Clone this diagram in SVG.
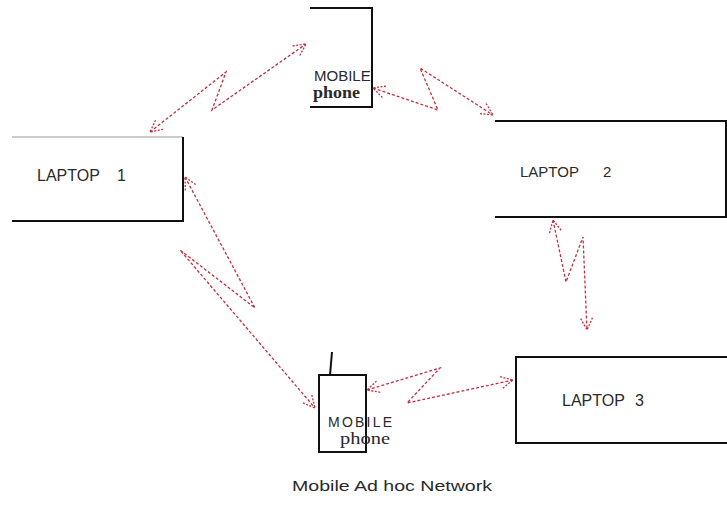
<svg xmlns="http://www.w3.org/2000/svg" width="727" height="527" viewBox="0 0 727 527">
<defs>
<style>
.box{fill:none;stroke:#111;stroke-width:2}
.thin{fill:none;stroke:#999;stroke-width:1}
.lbl{font-family:"Liberation Sans",Arial,sans-serif;fill:#2a2a2a}
.ser{font-family:"Liberation Serif","Times New Roman",serif;fill:#2a2a2a}
.link{fill:none;stroke:#c0303f;stroke-width:1.3;stroke-dasharray:3 2;marker-start:url(#ah);marker-end:url(#ah)}
</style>
<marker id="ah" viewBox="0 0 14 14" refX="13" refY="7" markerWidth="14" markerHeight="14" markerUnits="userSpaceOnUse" orient="auto-start-reverse">
<path d="M1,1 L13,7 L1,13" fill="none" stroke="#c0303f" stroke-width="1.3" stroke-dasharray="2 1.5"/>
</marker>
<clipPath id="clipM1"><rect x="300" y="8" width="71" height="99"/></clipPath>
</defs>
<rect width="727" height="527" fill="#fff"/>
<g id="connectors">
<polyline class="link" points="150,132 226,72 212,110 306,44"/>
<polyline class="link" points="373,88 438,110 420,68 493,115"/>
<polyline class="link" points="185,177 255,308 180,250 315,408"/>
<polyline class="link" points="367,390 440,368 407,403 513,380"/>
<polyline class="link" points="553,220 566,282 583,237 587,330"/>
</g>
<g id="laptop1">
<line class="thin" x1="12" y1="137" x2="183" y2="137"/>
<path class="box" d="M183,137 L183,221 L12,221"/>
<text class="lbl" x="37" y="181" font-size="16">LAPTOP <tspan x="117">1</tspan></text>
</g>
<g id="laptop2">
<path class="box" d="M495,121 L726,121 L726,217 L495,217"/>
<text class="lbl" x="520" y="177" font-size="15">LAPTOP <tspan x="603">2</tspan></text>
</g>
<g id="laptop3">
<path class="box" d="M727,357 L516,357 L516,443 L727,443"/>
<text class="lbl" x="562" y="406" font-size="16">LAPTOP <tspan x="635">3</tspan></text>
</g>
<g id="mobile1">
<path class="box" d="M310,8 L372,8 L372,107 L310,107"/>
<text class="lbl" x="314" y="81" font-size="15" clip-path="url(#clipM1)">MOBILE</text>
<text class="ser" x="313" y="98" font-size="17" font-weight="bold" textLength="47" lengthAdjust="spacingAndGlyphs">phone</text>
</g>
<g id="mobile2">
<rect class="box" x="319" y="375" width="47" height="77"/>
<line class="box" x1="332" y1="352" x2="330" y2="375"/>
<text class="lbl" x="328" y="427" font-size="14" textLength="64" lengthAdjust="spacing">MOBILE</text>
<text class="ser" x="340" y="444" font-size="16" textLength="50" lengthAdjust="spacingAndGlyphs">phone</text>
</g>
<text id="caption" class="lbl" x="292" y="491" font-size="15" textLength="200" lengthAdjust="spacingAndGlyphs">Mobile Ad hoc Network</text>
</svg>
